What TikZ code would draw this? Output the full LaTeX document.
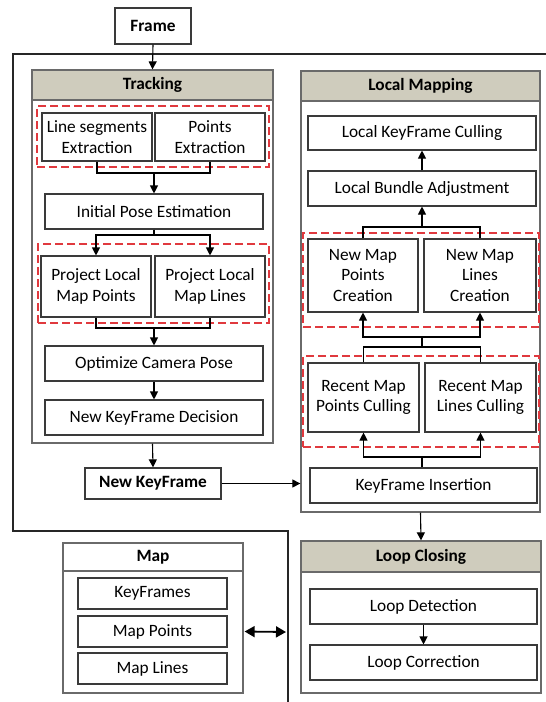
\documentclass[tikz,border=0pt]{standalone}
\usepackage{fontspec}
\setmainfont{Carlito}
\usetikzlibrary{fit,arrows.meta,calc}
\definecolor{hdr}{HTML}{CFCCBD}
\definecolor{secb}{HTML}{6A6A6A}
\definecolor{boxb}{HTML}{3A3A3A}
\definecolor{reddash}{HTML}{E0393E}
\newcommand\fs{\fontsize{17.3}{20.5}\selectfont}
\tikzset{
  box/.style={draw=boxb, line width=1.1pt, inner sep=0pt, fill=white, align=center, font=\fs},
  sec/.style={draw=secb, line width=1.3pt, inner sep=0pt, fill=white},
  hd/.style={draw=secb, line width=1.3pt, inner sep=0pt, fill=hdr, font=\fs\bfseries},
  mhd/.style={draw=secb, line width=1.3pt, inner sep=0pt, fill=white, font=\fs\bfseries},
  bbox/.style={draw=boxb, line width=1.3pt, inner sep=0pt, fill=white, font=\fs\bfseries},
  grp/.style={draw=reddash, line width=1.6pt, dash pattern=on 8pt off 4pt, inner sep=0pt},
  arr/.style={line width=1.1pt, -{Triangle[length=8pt,width=8pt]}},
  ln/.style={line width=1.1pt},
  outer/.style={line width=2.4pt, draw=black!85},
}
\begin{document}
\begin{tikzpicture}[x=1pt,y=-1pt]
\useasboundingbox (0,0) rectangle (546,702);
% outer line
\draw[outer] (546,54) -- (13,54) -- (13,531) -- (288,531) -- (288,702);

% Frame
\node[bbox, fit={(115,8) (191,44)}] (frame) {};
\node[font=\fs\bfseries] at (frame) {Frame};

% Tracking
\node[sec, fit={(32,70) (273,443)}] (trk) {};
\node[hd, fit={(32,70) (273,100)}] (trkh) {};
\node[font=\fs\bfseries] at (trkh) {Tracking};
\node[grp, fit={(37,106) (269,167)}] (g1) {};
\node[box, fit={(42,113) (152,161)}] (lse) {};
\node[font=\fs, align=center] at (lse) {Line segments\\Extraction};
\node[box, fit={(155,113) (265,161)}] (pe) {};
\node[font=\fs, align=center] at (pe) {Points\\Extraction};
\node[box, fit={(45,194) (263,229)}] (ipe) {};
\node[font=\fs] at (ipe) {Initial Pose Estimation};
\node[grp, fit={(38,244) (269,323)}] (g2) {};
\node[box, fit={(41,256) (151,317)}] (plp) {};
\node[font=\fs, align=center] at (plp) {Project Local\\Map Points};
\node[box, fit={(155,256) (265,317)}] (pll) {};
\node[font=\fs, align=center] at (pll) {Project Local\\Map Lines};
\node[box, fit={(45,346) (263,381)}] (ocp) {};
\node[font=\fs] at (ocp) {Optimize Camera Pose};
\node[box, fit={(45,400) (263,435)}] (nkd) {};
\node[font=\fs] at (nkd) {New KeyFrame Decision};

\node[bbox, fit={(85,468) (221,499)}] (nkf) {};
\node[font=\fs\bfseries] at (nkf) {New KeyFrame};

\coordinate (j1) at (154,173);
\coordinate (j2) at (154,235);
\coordinate (j3) at (154,328);

% Local Mapping
\node[sec, fit={(301,71) (540,512)}] (lm) {};
\node[hd, fit={(301,71) (540,101)}] (lmh) {};
\node[font=\fs\bfseries] at (lmh) {Local Mapping};
\node[box, fit={(308,116) (536,150)}] (lkc) {};
\node[font=\fs] at (lkc) {Local KeyFrame Culling};
\node[box, fit={(308,171) (536,206)}] (lba) {};
\node[font=\fs] at (lba) {Local Bundle Adjustment};
\node[grp, fit={(303,233) (539,327)}] (g3) {};
\node[box, fit={(308,239) (418,312)}] (nmp) {};
\node[font=\fs, align=center] at (nmp) {New Map\\Points\\Creation};
\node[box, fit={(424,239) (536,312)}] (nml) {};
\node[font=\fs, align=center] at (nml) {New Map\\Lines\\Creation};
\node[grp, fit={(303,356) (539,447)}] (g4) {};
\node[box, fit={(308,363) (419,432)}] (rmp) {};
\node[font=\fs, align=center] at (rmp) {Recent Map\\Points Culling};
\node[box, fit={(425,363) (536,432)}] (rml) {};
\node[font=\fs, align=center] at (rml) {Recent Map\\Lines Culling};
\node[box, fit={(310,468) (537,503)}] (kfi) {};
\node[font=\fs] at (kfi) {KeyFrame Insertion};

\coordinate (k1) at (422,227);
\coordinate (k2) at (422,337);
\coordinate (k3) at (422,347);
\coordinate (k4) at (422,457);

% Loop Closing
\node[sec, fit={(301,541) (541,693)}] (lc) {};
\node[hd, fit={(301,541) (541,572)}] (lch) {};
\node[font=\fs\bfseries] at (lch) {Loop Closing};
\node[box, fit={(310,589) (537,624)}] (ld) {};
\node[font=\fs] at (ld) {Loop Detection};
\node[box, fit={(310,645) (537,680)}] (lcor) {};
\node[font=\fs] at (lcor) {Loop Correction};

% Map
\node[sec, fit={(63,543) (243,693)}] (map) {};
\node[mhd, fit={(63,543) (243,571)}] (maph) {};
\node[font=\fs\bfseries] at (maph) {Map};
\node[box, fit={(78,578) (227,609)}] (kfs) {};
\node[font=\fs] at (kfs) {KeyFrames};
\node[box, fit={(78,616) (227,647)}] (mpts) {};
\node[font=\fs] at (mpts) {Map Points};
\node[box, fit={(78,653) (227,684)}] (mlns) {};
\node[font=\fs] at (mlns) {Map Lines};
\coordinate (dend) at (286,632);

% connectors: tracking
\draw[arr] (frame.south) -- (trk.north);
\draw[ln] (lse.south) |- (j1);
\draw[ln] (pe.south) |- (j1);
\draw[arr] (j1) -- (ipe.north);
\draw[ln] (ipe.south) -- (j2);
\draw[arr] (j2) -| (plp.north);
\draw[arr] (j2) -| (pll.north);
\draw[ln] (plp.south) |- (j3);
\draw[ln] (pll.south) |- (j3);
\draw[arr] (j3) -- (ocp.north);
\draw[arr] (ocp.south) -- (nkd.north);
\draw[arr] (trk.south) -- (nkf.north);
\draw[arr] (nkf.east) -- (nkf.east -| lm.west);

% connectors: local mapping
\draw[ln] (kfi.north -| k4) -- (k4);
\draw[arr] (k4) -| (rmp.south);
\draw[arr] (k4) -| (rml.south);
\draw[ln] (rmp.north) |- (k3);
\draw[ln] (rml.north) |- (k3);
\draw[ln] (k3) -- (k2);
\draw[arr] (k2) -| (nmp.south);
\draw[arr] (k2) -| (nml.south);
\draw[ln] (nmp.north) |- (k1);
\draw[ln] (nml.north) |- (k1);
\draw[arr] (k1) -- (lba.south -| k1);
\draw[arr] (lba.north -| k1) -- (lkc.south -| k1);
\draw[arr] (lm.south) -- (lc.north);
\draw[arr] (ld.south) -- (lcor.north);

% map double arrow
\draw[line width=1.8pt, {Triangle[length=10pt,width=11pt]}-{Triangle[length=10pt,width=11pt]}] (map.east |- mpts) ++(1,0) -- (dend);
\end{tikzpicture}
\end{document}
